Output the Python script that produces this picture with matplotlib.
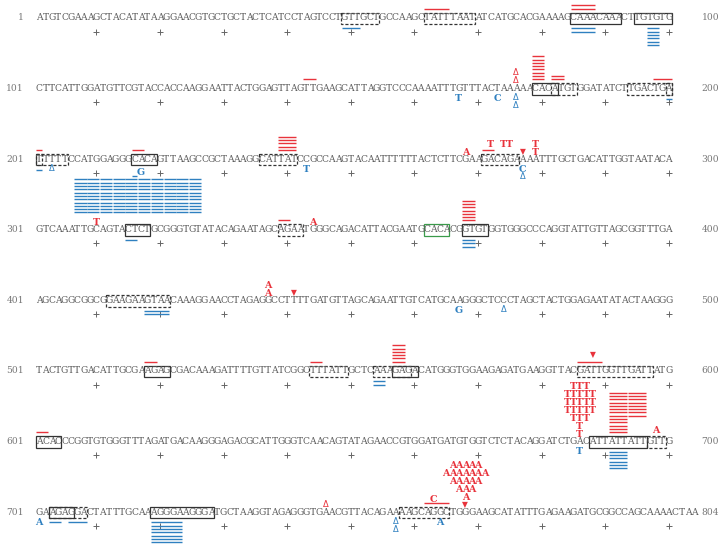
import matplotlib.pyplot as plt
from matplotlib.patches import Rectangle

# sequence, 100 bases a row (the last row carries 104)
seq_rows = [
    "ATGTCGAAAGCTACATATAAGGAACGTGCTGCTACTCATCCTAGTCCTGTTGCTGCCAAGCTATTTAATATCATGCACGAAAAGCAAACAAACTTGTGTG",
    "CTTCATTGGATGTTCGTACCACCAAGGAATTACTGGAGTTAGTTGAAGCATTAGGTCCCAAAATTTGTTTACTAAAAACACATGTGGATATCTTGACTGA",
    "TTTTTCCATGGAGGGCACAGTTAAGCCGCTAAAGGCATTATCCGCCAAGTACAATTTTTTACTCTTCGAAGACAGAAAATTTGCTGACATTGGTAATACA",
    "GTCAAATTGCAGTACTCTGCGGGTGTATACAGAATAGCAGAATGGGCAGACATTACGAATGCACACGGTGTGGTGGGCCCAGGTATTGTTAGCGGTTTGA",
    "AGCAGGCGGCGGAAGAAGTAACAAAGGAACCTAGAGGCCTTTTGATGTTAGCAGAATTGTCATGCAAGGGCTCCCTAGCTACTGGAGAATATACTAAGGG",
    "TACTGTTGACATTGCGAAGAGCGACAAAGATTTTGTTATCGGCTTTATTGCTCAAAGAGACATGGGTGGAAGAGATGAAGGTTACGATTGGTTGATTATG",
    "ACACCCGGTGTGGGTTTAGATGACAAGGGAGACGCATTGGGTCAACAGTATAGAACCGTGGATGATGTGGTCTCTACAGGATCTGACATTATTATTGTTG",
    "GAAGAGGACTATTTGCAAAGGGAAGGGATGCTAAGGTAGAGGGTGAACGTTACAGAAAAGCAGGCTGGGAAGCATATTTGAGAAGATGCGGCCAGCAAAACTAA",
]
row_first = [1, 101, 201, 301, 401, 501, 601, 701]
row_last = [100, 200, 300, 400, 500, 600, 700, 804]

# boxed motifs: first base, last base, style
boxes = [
    (49, 54, "dashed"), (62, 69, "dashed"), (85, 92, "solid"), (95, 100, "solid"),
    (179, 182, "solid"), (182, 185, "dashed"), (194, 200, "dashed"), (200, 200, "dashed"),
    (201, 205, "dashed"), (201, 201, "dashed"), (216, 219, "solid"), (236, 241, "dashed"),
    (271, 276, "dashed"),
    (315, 318, "solid"), (339, 342, "dashed"), (362, 365, "green"), (368, 371, "solid"),
    (412, 421, "dashed"),
    (518, 521, "solid"), (544, 549, "dashed"), (554, 559, "dashed"), (557, 560, "solid"),
    (586, 597, "dashed"),
    (601, 604, "solid"), (688, 696, "solid"), (697, 699, "dashed"),
    (703, 706, "solid"), (703, 708, "dashed"), (719, 728, "solid"), (758, 765, "dashed"),
]

# stacked bars: first base, last base, number of lines, first stack level
red_bars = [
    (62, 65, 1, 1), (85, 88, 2, 1),
    (143, 144, 1, 1), (179, 180, 8, 1), (182, 183, 2, 1), (198, 200, 1, 1),
    (201, 201, 1, 1), (216, 217, 1, 1), (239, 241, 5, 1), (271, 272, 1, 1),
    (339, 340, 1, 1), (368, 369, 7, 1),
    (518, 519, 1, 1), (544, 545, 1, 1), (557, 558, 6, 1), (586, 589, 1, 1),
    (601, 602, 1, 1), (691, 693, 13, 1), (694, 696, 8, 6),
    (762, 765, 1, 1),
]
blue_bars = [
    (49, 51, 1, 1), (85, 88, 2, 1), (97, 98, 6, 1),
    (200, 200, 1, 1),
    (201, 201, 1, 1), (216, 216, 1, 3),
    (207, 208, 11, 4), (209, 210, 11, 4), (211, 212, 11, 4), (213, 214, 11, 4),
    (215, 216, 11, 4), (217, 218, 11, 4), (219, 220, 11, 4), (221, 222, 11, 4),
    (223, 224, 11, 4), (225, 226, 11, 4),
    (315, 316, 1, 1), (368, 369, 3, 1),
    (418, 421, 2, 1),
    (554, 555, 2, 1),
    (691, 693, 6, 1),
    (703, 704, 1, 1), (706, 708, 1, 1), (719, 723, 7, 1),
]

# letters / symbols: first base, last base, symbol, stack level
red_marks = [
    (176, 176, "del", 1), (176, 176, "del", 2),
    (268, 268, "A", 1), (272, 272, "T", 2), (274, 275, "T", 2), (277, 277, "ins", 1),
    (279, 279, "T", 1), (279, 279, "T", 2),
    (310, 310, "T", 1), (344, 344, "A", 1),
    (437, 437, "A", 1), (437, 437, "A", 2), (441, 441, "ins", 1),
    (588, 588, "ins", 2),
    (686, 686, "T", 1), (686, 686, "T", 2), (685, 687, "T", 3), (684, 688, "T", 4),
    (684, 688, "T", 5), (684, 688, "T", 6), (685, 687, "T", 7),
    (698, 698, "A", 1.5),
    (746, 746, "del", 1), (763, 763, "C", 1.75),
    (768, 768, "ins", 1), (768, 768, "A", 2), (767, 769, "A", 3), (766, 770, "A", 4),
    (765, 771, "A", 5), (766, 770, "A", 6),
]
blue_marks = [
    (167, 167, "T", 1), (173, 173, "C", 1), (176, 176, "del", 1), (176, 176, "del", 2),
    (203, 203, "del", 1), (217, 217, "G", 1.4), (243, 243, "T", 1),
    (277, 277, "C", 1), (277, 277, "del", 2),
    (467, 467, "G", 1), (474, 474, "del", 1),
    (686, 686, "T", 1),
    (701, 701, "A", 1), (757, 757, "del", 1), (757, 757, "del", 2), (764, 764, "A", 1),
]

RED = "#e8333c"
BLUE = "#2f80c0"
GRAY = "#5a5a5a"
BOX_COLORS = {"solid": "#333333", "dashed": "#333333", "green": "#3a9a4a"}

TOP = 17.0
ROW_H = 70.6


def row_y(r):
    return TOP + ROW_H * r


def where(pos):
    r = min((pos - 1) // 100, 7)
    return r, pos - row_first[r] + 1


fig = plt.figure(figsize=(7.24, 5.46), dpi=100)
ax = fig.add_axes([0, 0, 1, 1])
ax.set_xlim(-5.16, 108.68)
ax.set_ylim(546, 0)
ax.axis("off")

for r, s in enumerate(seq_rows):
    c = row_y(r)
    for k, ch in enumerate(s, start=1):
        ax.text(k, c + 3.4, ch, ha="center", va="baseline", fontsize=6.6,
                family="DejaVu Serif", color=GRAY)
    ax.text(-1.4, c + 3.4, str(row_first[r]), ha="right", va="baseline",
            fontsize=6.6, family="DejaVu Serif", color="#777777")
    ax.text(107.9, c + 3.4, str(row_last[r]), ha="right", va="baseline",
            fontsize=6.6, family="DejaVu Serif", color="#777777")
    ticks = list(range(10, 101, 10))
    ax.plot(ticks, [c + 14.5] * len(ticks), ls="none", marker="+", ms=5,
            mew=0.7, color="#666666")

for s, e, style in boxes:
    r, k0 = where(s)
    _, k1 = where(e)
    c = row_y(r)
    ax.add_patch(Rectangle((k0 - 0.5, c - 4.5), k1 - k0 + 1, 11.7, fill=False,
                           lw=0.9, ec=BOX_COLORS[style],
                           ls=(0, (2.5, 1.5)) if style == "dashed" else "-"))

for bars, color, sign, first in [(red_bars, RED, -1, 8.3), (blue_bars, BLUE, 1, 11.3)]:
    for s, e, n, lvl in bars:
        r, k0 = where(s)
        _, k1 = where(e)
        c = row_y(r)
        for i in range(n):
            y = c + sign * (first + 3.3 * (lvl - 1 + i))
            ax.hlines(y, k0 - 0.45, k1 + 0.45, color=color, lw=1.0)

for marks, color, sign, first in [(red_marks, RED, -1, 7.0), (blue_marks, BLUE, 1, 10.0)]:
    for s, e, sym, lvl in marks:
        r, k0 = where(s)
        _, k1 = where(e)
        c = row_y(r)
        y = c + sign * (first + 8.0 * (lvl - 1))
        for k in range(k0, k1 + 1):
            if sym == "del":
                ax.text(k, y, "\u0394", ha="center", va="center", fontsize=6,
                        family="DejaVu Sans", color=color)
            elif sym == "ins":
                ax.text(k, y, "\u25bc", ha="center", va="center", fontsize=5.5,
                        family="DejaVu Sans", color=color)
            else:
                ax.text(k, y + 3.4, sym, ha="center", va="baseline", fontsize=6.8,
                        family="DejaVu Serif", fontweight="bold", color=color)

fig.savefig("out.png", dpi=100)
